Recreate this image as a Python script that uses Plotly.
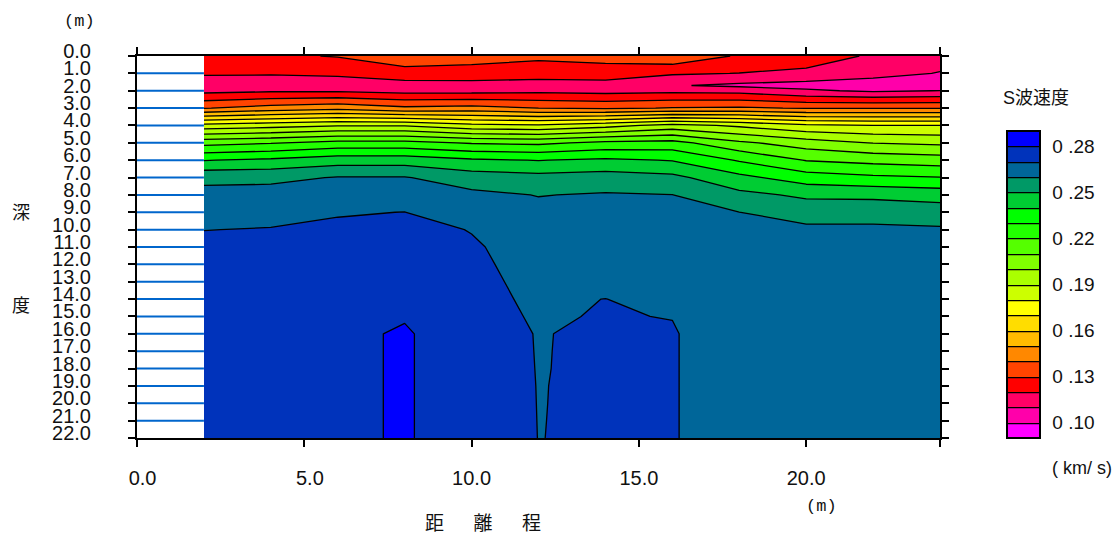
import plotly.graph_objects as go

positions = [2, 4, 6, 8, 10, 12, 14, 16, 18, 20, 22, 24]
depths = [0, 1, 1.7, 2, 3, 4, 5, 6, 7, 8, 9, 10, 11, 12, 13, 14, 15, 16, 17, 18, 19, 20, 21, 22]

vs_x02 = [.1280,.1204,.1180,.1171,.1395,.1834,.2166,.2396,.2575,.2630,.2665,.2699,.2715,.2722,.2730,.2735,.2740,.2745,.2745,.2745,.2745,.2745,.2745,.2745]
vs_x04 = [.1280,.1203,.1180,.1185,.1440,.1861,.2192,.2419,.2575,.2640,.2680,.2703,.2718,.2725,.2733,.2738,.2745,.2750,.2750,.2750,.2750,.2750,.2750,.2750]
vs_x06 = [.1307,.1205,.1185,.1185,.1470,.1892,.2232,.2456,.2606,.2656,.2694,.2715,.2725,.2735,.2740,.2745,.2755,.2768,.2768,.2768,.2768,.2768,.2768,.2768]
vs_x08 = [.1395,.1240,.1170,.1165,.1420,.1892,.2232,.2456,.2606,.2655,.2701,.2725,.2740,.2750,.2760,.2770,.2790,.2815,.2815,.2815,.2815,.2815,.2815,.2815]
vs_x10 = [.1355,.1245,.1170,.1165,.1435,.1828,.2191,.2415,.2550,.2622,.2655,.2697,.2709,.2710,.2711,.2712,.2712,.2712,.2712,.2712,.2712,.2712,.2712,.2712]
vs_x12 = [.1328,.1222,.1178,.1175,.1400,.1814,.2179,.2397,.2532,.2597,.2625,.2640,.2665,.26814,.26886,.2693,.26965,.26989,.26991,.26993,.26995,.26996,.26997,.26998]
vs_x14 = [.1355,.1225,.1180,.1165,.1385,.1863,.2224,.2418,.2545,.2608,.2625,.2640,.2655,.2665,.2685,.27005,.2702,.27038,.27035,.2703,.27028,.27025,.27022,.27018]
vs_x16 = [.1380,.1212,.1108,.1175,.1405,.1934,.2236,.2395,.2526,.2601,.2618,.2635,.2650,.2662,.2675,.2685,.2699,.27035,.27035,.27035,.27035,.27035,.27035,.27035]
vs_x18 = [.12875,.1198,.1080,.1165,.1415,.1882,.2121,.2290,.2428,.2526,.2601,.2630,.2650,.2655,.2660,.2663,.2666,.2669,.2669,.2669,.2669,.2669,.2669,.2669]
vs_x20 = [.1285,.1163,.1067,.1115,.1392,.1819,.2048,.2195,.2348,.2483,.2558,.2620,.2640,.2650,.2655,.2660,.2663,.2665,.2665,.2665,.2665,.2665,.2665,.2665]
vs_x22 = [.1178,.1135,.1044,.1085,.1392,.1804,.1996,.2169,.2319,.2479,.2558,.2620,.2635,.2645,.2650,.2655,.2658,.2660,.2660,.2660,.2660,.2660,.2660,.2660]
vs_x24 = [.1145,.1095,.1030,.1102,.1392,.1800,.1979,.2150,.2303,.2460,.2550,.2612,.2625,.2635,.2640,.2645,.2648,.2650,.2650,.2650,.2650,.2650,.2650,.2650]

band_colors = ["#FF00FF", "#FF00AA", "#FF0066", "#FF0000", "#FF4400", "#FF8800", "#FFBB00",
               "#FFDD00", "#FFFF00", "#CCFF00", "#AAFF00", "#80FF00", "#55FF00", "#22FF00",
               "#00FF00", "#00CC33", "#009966", "#006699", "#0033BB", "#0000FF"]

x_ticks = [0, 5, 10, 15, 20, 24]
x_labels = ["\u00a0\u00a00.0", "\u00a0\u00a05.0", "10.0", "15.0", "20.0", ""]
y_ticks = list(range(0, 23))
y_labels = [f"{d}.0" for d in y_ticks]
cb_ticks = [0.10, 0.13, 0.16, 0.19, 0.22, 0.25, 0.28]
cb_labels = ["0 .10", "0 .13", "0 .16", "0 .19", "0 .22", "0 .25", "0 .28"]
survey_depths = list(range(1, 22))

LAT = "Liberation Sans"
CJK = "Liberation Sans, Noto Sans CJK JP"
MONO = "Liberation Mono"
columns = [vs_x02, vs_x04, vs_x06, vs_x08, vs_x10, vs_x12, vs_x14, vs_x16, vs_x18, vs_x20, vs_x22, vs_x24]
z = [list(row) for row in zip(*columns)]
n = len(band_colors)
scale = []
for i, c in enumerate(band_colors):
    lo = max(0.0, (i - 0.5) / (n - 1))
    hi = min(1.0, (i + 0.5) / (n - 1))
    scale += [[lo, c], [hi, c]]

fig = go.Figure()
lx, ly = [], []
for d in survey_depths:
    lx += [0, 2, None]
    ly += [d, d, None]
fig.add_trace(go.Scatter(x=lx, y=ly, mode="lines", line=dict(color="#0066CC", width=2),
                         showlegend=False, hoverinfo="skip"))
fig.add_trace(go.Contour(
    x=positions, y=depths, z=z, zmin=0.09, zmax=0.29, autocontour=False,
    colorscale=scale,
    contours=dict(start=0.10, end=0.2805, size=0.01, coloring="fill", showlines=True),
    line=dict(color="black", width=1.3, smoothing=0),
    colorbar=dict(
        thickness=33, thicknessmode="pixels", len=307, lenmode="pixels",
        x=(1007 - 137) / 803, xanchor="left", xpad=0,
        y=0, yanchor="bottom", ypad=0,
        outlinecolor="black", outlinewidth=2,
        tickmode="array", tickvals=cb_ticks, ticktext=cb_labels,
        ticks="outside", ticklen=8, tickcolor="rgba(0,0,0,0)",
        tickfont=dict(family=LAT, size=19, color="#111"),
    ),
))

fig.update_layout(
    width=1115, height=535, paper_bgcolor="white", plot_bgcolor="white",
    margin=dict(l=137, r=175, t=56, b=97),
    xaxis=dict(range=[0, 24], tickmode="array", tickvals=x_ticks, ticktext=x_labels,
               ticks="outside", ticklen=7, tickwidth=2, tickcolor="black",
               showline=True, linecolor="black", linewidth=2, mirror="ticks",
               showgrid=False, zeroline=False, ticklabelstandoff=14,
               tickfont=dict(family=LAT, size=20, color="#111"), tickangle=0),
    yaxis=dict(range=[22, 0], tickmode="array", tickvals=y_ticks, ticktext=y_labels,
               ticks="outside", ticklen=7, tickwidth=2, tickcolor="black",
               showline=True, linecolor="black", linewidth=2, mirror="ticks",
               showgrid=False, zeroline=False, ticklabelstandoff=33, ticklabelshift=5,
               tickfont=dict(family=LAT, size=20, color="#111")),
)

def note(text, px, py, size=18, family=CJK):
    fig.add_annotation(text=text, xref="paper", yref="paper",
                       x=(px - 137) / 803, y=(437.5 - py) / 381.5,
                       showarrow=False, xanchor="center", yanchor="middle",
                       font=dict(family=family, size=size, color="#111"))

note("(m)", 79, 22, 17, MONO)
note("(m)", 821, 506, 17, MONO)
note("深", 21, 213)
note("度", 21, 306)
note("距\u3000\u00a0\u00a0離\u3000\u00a0\u00a0程", 483, 523, 19)
note("S波速度", 1036, 98, 18)
note("( km/ s)", 1082, 467, 18, LAT)

fig.write_html("out.html", post_script="document.body.style.margin='0';",
               config={"displayModeBar": False})
